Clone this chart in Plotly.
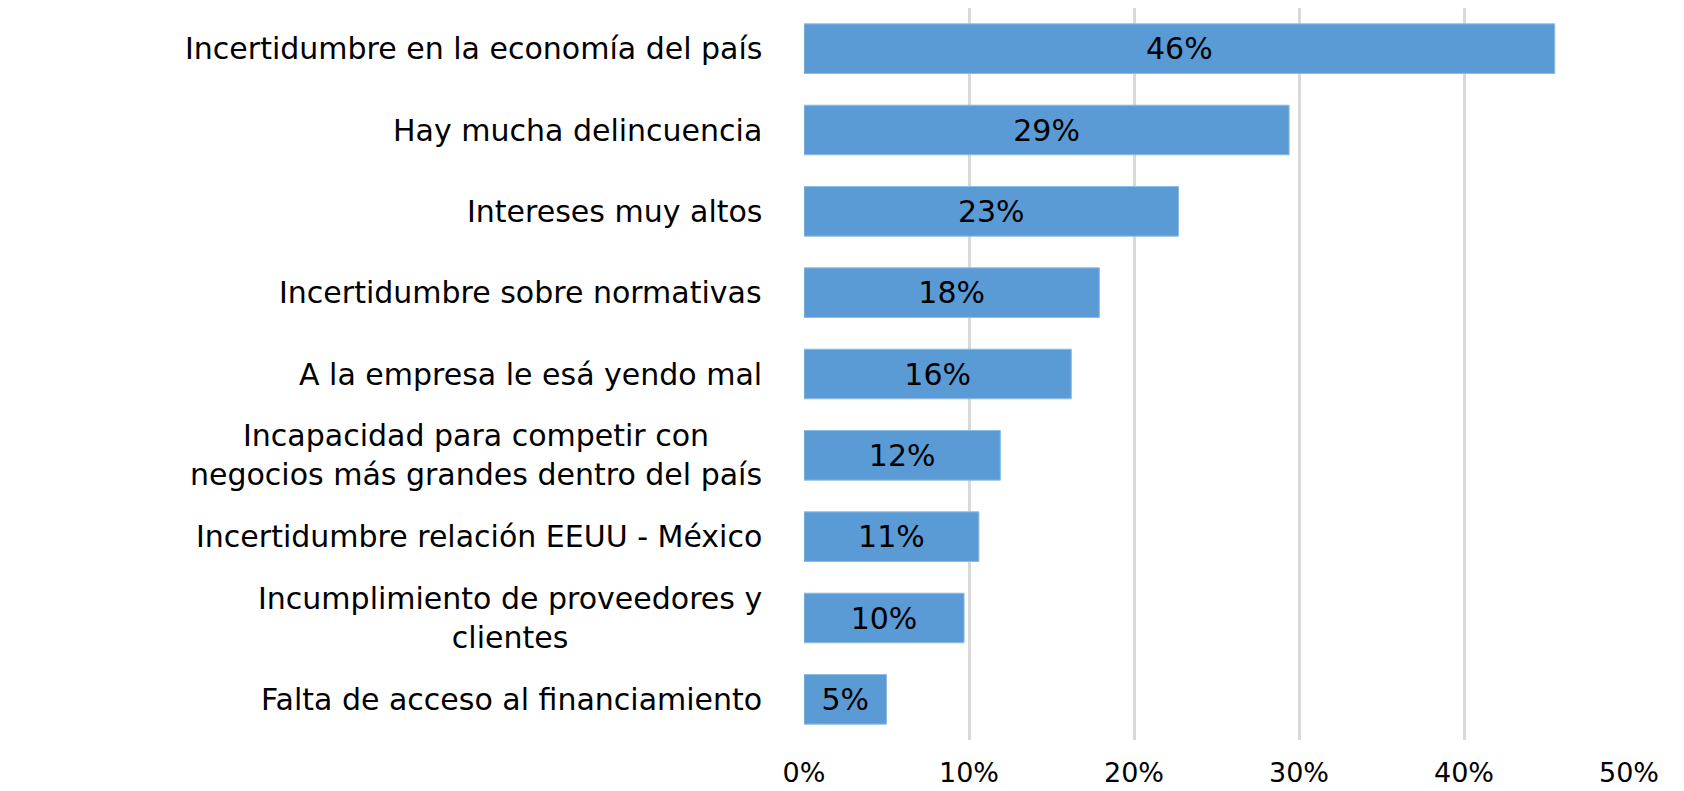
import plotly.graph_objects as go

categories = [
    "Incertidumbre en la economía del país",
    "Hay mucha delincuencia",
    "Intereses muy altos",
    "Incertidumbre sobre normativas",
    "A la empresa le esá yendo mal",
    "Incapacidad para competir con<br>negocios más grandes dentro del país",
    "Incertidumbre relación EEUU - México",
    "Incumplimiento de proveedores y<br>clientes",
    "Falta de acceso al financiamiento",
]
values = [0.455, 0.294, 0.227, 0.179, 0.162, 0.119, 0.106, 0.097, 0.050]
value_labels = ["46%", "29%", "23%", "18%", "16%", "12%", "11%", "10%", "5%"]
tick_vals = [0, 0.1, 0.2, 0.3, 0.4, 0.5]
tick_text = ["0%", "10%", "20%", "30%", "40%", "50%"]

FONT = "DejaVu Sans"

fig = go.Figure()
fig.add_trace(go.Bar(
    y=categories,
    x=values,
    orientation="h",
    marker=dict(color="#5b9bd5", line=dict(color="#8fbbe3", width=1)),
    text=value_labels,
    textposition="inside",
    insidetextanchor="middle",
    textfont=dict(family=FONT, size=30, color="#000000"),
    cliponaxis=False,
    hoverinfo="skip",
))

for cat in categories:
    fig.add_annotation(
        x=0, xref="paper", y=cat, yref="y",
        text=cat, showarrow=False,
        xanchor="right", yanchor="middle", align="center",
        xshift=-40,
        font=dict(family=FONT, size=30, color="#000000"),
    )

fig.update_layout(
    width=1684, height=783,
    margin=dict(l=796, r=63, t=0, b=51),
    paper_bgcolor="white", plot_bgcolor="white",
    bargap=0.39,
    showlegend=False,
    xaxis=dict(
        range=[0, 0.5],
        tickvals=tick_vals, ticktext=tick_text,
        showgrid=True, gridcolor="#d9d9d9", gridwidth=2.5,
        zeroline=False, showline=False,
        ticks="", ticklabelstandoff=14,
        tickfont=dict(family=FONT, size=27, color="#000000"),
    ),
    yaxis=dict(
        categoryorder="array", categoryarray=categories[::-1],
        showticklabels=False, showgrid=False, zeroline=False, showline=False,
        ticks="",
    ),
)

fig.write_html("out.html")
